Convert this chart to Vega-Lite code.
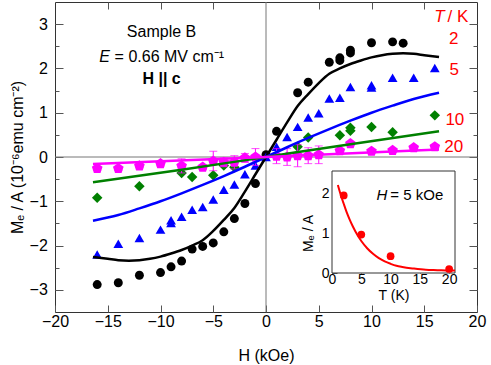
{
  "$schema": "https://vega.github.io/schema/vega-lite/v6.json",
  "width": 422,
  "height": 310,
  "autosize": {"type": "none"},
  "padding": {"left": 55, "top": 2, "right": 14, "bottom": 53},
  "config": {
    "font": "Liberation Sans",
    "view": {"stroke": "#333", "strokeWidth": 1},
    "axis": {"domain": false, "grid": false, "labelFont": "Liberation Sans", "titleFont": "Liberation Sans", "labelColor": "#000", "titleColor": "#000", "tickColor": "#555", "tickWidth": 1, "titleFontWeight": "normal", "labelFlush": false, "labelOverlap": false}
  },
  "datasets": {
    "one": [{}],
    "points": [
      {"H": -16, "M": -2.88, "T": 2}, {"H": -14, "M": -2.84, "T": 2}, {"H": -12, "M": -2.67, "T": 2}, {"H": -10, "M": -2.61, "T": 2},
      {"H": -9, "M": -2.48, "T": 2}, {"H": -8, "M": -2.35, "T": 2}, {"H": -7, "M": -2.08, "T": 2}, {"H": -6, "M": -2.02, "T": 2},
      {"H": -5, "M": -1.94, "T": 2}, {"H": -4, "M": -1.69, "T": 2}, {"H": -3, "M": -1.39, "T": 2}, {"H": -2, "M": -1.05, "T": 2},
      {"H": -1, "M": -0.6, "T": 2}, {"H": 0, "M": 0.05, "T": 2}, {"H": 1, "M": 0.58, "T": 2}, {"H": 3, "M": 1.45, "T": 2},
      {"H": 4, "M": 1.69, "T": 2}, {"H": 6, "M": 2.14, "T": 2}, {"H": 7, "M": 2.18, "T": 2}, {"H": 7, "M": 2.24, "T": 2},
      {"H": 8, "M": 2.35, "T": 2}, {"H": 8, "M": 2.41, "T": 2}, {"H": 10, "M": 2.58, "T": 2}, {"H": 12, "M": 2.6, "T": 2}, {"H": 13, "M": 2.57, "T": 2},
      {"H": -16, "M": -2.2, "T": 5}, {"H": -14, "M": -1.96, "T": 5}, {"H": -12, "M": -1.83, "T": 5}, {"H": -10, "M": -1.64, "T": 5},
      {"H": -9, "M": -1.43, "T": 5}, {"H": -9, "M": -1.49, "T": 5}, {"H": -8, "M": -1.35, "T": 5}, {"H": -7, "M": -1.19, "T": 5},
      {"H": -6, "M": -1.13, "T": 5}, {"H": -5, "M": -0.96, "T": 5}, {"H": -4, "M": -0.74, "T": 5}, {"H": -3, "M": -0.62, "T": 5},
      {"H": -2, "M": -0.39, "T": 5}, {"H": -1, "M": -0.19, "T": 5}, {"H": 0, "M": 0.0, "T": 5}, {"H": 1, "M": 0.23, "T": 5},
      {"H": 2, "M": 0.45, "T": 5}, {"H": 3, "M": 0.68, "T": 5}, {"H": 4, "M": 0.89, "T": 5}, {"H": 5, "M": 0.99, "T": 5},
      {"H": 6, "M": 1.32, "T": 5}, {"H": 7, "M": 1.34, "T": 5}, {"H": 8, "M": 1.58, "T": 5}, {"H": 10, "M": 1.62, "T": 5},
      {"H": 10, "M": 1.57, "T": 5}, {"H": 12, "M": 1.79, "T": 5}, {"H": 14, "M": 1.79, "T": 5}, {"H": 16, "M": 2.01, "T": 5},
      {"H": -16, "M": -0.92, "T": 10}, {"H": -12, "M": -0.66, "T": 10}, {"H": -8, "M": -0.36, "T": 10}, {"H": -7, "M": -0.45, "T": 10},
      {"H": -5, "M": -0.41, "T": 10}, {"H": -4, "M": -0.19, "T": 10}, {"H": -3, "M": -0.23, "T": 10}, {"H": 3, "M": 0.23, "T": 10},
      {"H": 4, "M": 0.44, "T": 10}, {"H": 7, "M": 0.49, "T": 10}, {"H": 8, "M": 0.66, "T": 10}, {"H": 8, "M": 0.59, "T": 10},
      {"H": 10, "M": 0.68, "T": 10}, {"H": 12, "M": 0.56, "T": 10}, {"H": 16, "M": 0.94, "T": 10},
      {"H": -16, "M": -0.26, "T": 20, "err": 0.04}, {"H": -14, "M": -0.26, "T": 20, "err": 0.04}, {"H": -12, "M": -0.2, "T": 20, "err": 0.04},
      {"H": -10, "M": -0.15, "T": 20, "err": 0.05}, {"H": -8, "M": -0.2, "T": 20, "err": 0.16}, {"H": -6, "M": -0.23, "T": 20, "err": 0.05},
      {"H": -5, "M": -0.09, "T": 20, "err": 0.22}, {"H": -4, "M": -0.12, "T": 20, "err": 0.1}, {"H": -3, "M": -0.12, "T": 20, "err": 0.15},
      {"H": -2, "M": -0.02, "T": 20, "err": 0.1}, {"H": -1, "M": 0.0, "T": 20, "err": 0.19}, {"H": 1, "M": 0.02, "T": 20, "err": 0.17},
      {"H": 2, "M": 0.0, "T": 20, "err": 0.19}, {"H": 3, "M": 0.03, "T": 20, "err": 0.25}, {"H": 4, "M": 0.03, "T": 20, "err": 0.18},
      {"H": 5, "M": 0.05, "T": 20, "err": 0.2}, {"H": 7, "M": 0.14, "T": 20, "err": 0.04}, {"H": 8, "M": 0.3, "T": 20, "err": 0.04},
      {"H": 10, "M": 0.13, "T": 20, "err": 0.04}, {"H": 12, "M": 0.15, "T": 20, "err": 0.04}, {"H": 14, "M": 0.21, "T": 20, "err": 0.04},
      {"H": 16, "M": 0.23, "T": 20, "err": 0.04}
    ],
    "fits": [
      {"H": -16.4, "M": -2.26, "T": 2}, {"H": -15, "M": -2.3, "T": 2}, {"H": -14, "M": -2.33, "T": 2}, {"H": -13, "M": -2.34, "T": 2},
      {"H": -12, "M": -2.33, "T": 2}, {"H": -11, "M": -2.3, "T": 2}, {"H": -10, "M": -2.25, "T": 2}, {"H": -9, "M": -2.18, "T": 2},
      {"H": -8, "M": -2.1, "T": 2}, {"H": -7, "M": -2.0, "T": 2}, {"H": -6, "M": -1.88, "T": 2}, {"H": -5, "M": -1.67, "T": 2},
      {"H": -4, "M": -1.42, "T": 2}, {"H": -3, "M": -1.15, "T": 2}, {"H": -2, "M": -0.78, "T": 2}, {"H": -1, "M": -0.39, "T": 2},
      {"H": 0, "M": 0, "T": 2}, {"H": 1, "M": 0.39, "T": 2}, {"H": 2, "M": 0.78, "T": 2}, {"H": 3, "M": 1.15, "T": 2},
      {"H": 4, "M": 1.42, "T": 2}, {"H": 5, "M": 1.67, "T": 2}, {"H": 6, "M": 1.88, "T": 2}, {"H": 7, "M": 2.0, "T": 2},
      {"H": 8, "M": 2.1, "T": 2}, {"H": 9, "M": 2.18, "T": 2}, {"H": 10, "M": 2.25, "T": 2}, {"H": 11, "M": 2.3, "T": 2},
      {"H": 12, "M": 2.33, "T": 2}, {"H": 13, "M": 2.34, "T": 2}, {"H": 14, "M": 2.33, "T": 2}, {"H": 15, "M": 2.3, "T": 2}, {"H": 16.4, "M": 2.26, "T": 2},
      {"H": -16.4, "M": -1.44, "T": 5}, {"H": -14, "M": -1.31, "T": 5}, {"H": -12, "M": -1.16, "T": 5}, {"H": -10, "M": -1.0, "T": 5},
      {"H": -8, "M": -0.82, "T": 5}, {"H": -6, "M": -0.63, "T": 5}, {"H": -4, "M": -0.43, "T": 5}, {"H": -2, "M": -0.22, "T": 5},
      {"H": 0, "M": 0, "T": 5}, {"H": 2, "M": 0.22, "T": 5}, {"H": 4, "M": 0.43, "T": 5}, {"H": 6, "M": 0.63, "T": 5},
      {"H": 8, "M": 0.82, "T": 5}, {"H": 10, "M": 1.0, "T": 5}, {"H": 12, "M": 1.16, "T": 5}, {"H": 14, "M": 1.31, "T": 5}, {"H": 16.4, "M": 1.45, "T": 5},
      {"H": -16.4, "M": -0.57, "T": 10}, {"H": -8, "M": -0.29, "T": 10}, {"H": 0, "M": 0, "T": 10}, {"H": 8, "M": 0.29, "T": 10}, {"H": 16.4, "M": 0.58, "T": 10},
      {"H": -16.4, "M": -0.16, "T": 20}, {"H": 0, "M": 0, "T": 20}, {"H": 16.4, "M": 0.17, "T": 20}
    ],
    "inset_points": [
      {"T": 2, "R": 1.94}, {"T": 5, "R": 0.96}, {"T": 10, "R": 0.42}, {"T": 20, "R": 0.1}
    ],
    "inset_fit": [
      {"T": 1, "R": 2.2}, {"T": 1.5, "R": 1.95}, {"T": 2, "R": 1.73}, {"T": 2.5, "R": 1.52}, {"T": 3, "R": 1.34},
      {"T": 3.5, "R": 1.18}, {"T": 4, "R": 1.04}, {"T": 5, "R": 0.8}, {"T": 6, "R": 0.62}, {"T": 7, "R": 0.48},
      {"T": 8, "R": 0.37}, {"T": 9, "R": 0.29}, {"T": 10, "R": 0.23}, {"T": 11, "R": 0.18}, {"T": 12, "R": 0.15},
      {"T": 14, "R": 0.11}, {"T": 16, "R": 0.08}, {"T": 18, "R": 0.07}, {"T": 20, "R": 0.06}, {"T": 21, "R": 0.06}
    ]
  },
  "layer": [
    {
      "data": {"name": "one"},
      "mark": {"type": "rule", "color": "#777", "strokeWidth": 1},
      "encoding": {
        "x": {"datum": 0, "type": "quantitative", "scale": {"domain": [-20, 20], "nice": false, "zero": false},
              "axis": {"orient": "top", "labels": false, "title": null, "tickSize": -7, "values": [-15, -10, -5, 5, 10, 15]}},
        "y": {"datum": -3.5, "type": "quantitative", "scale": {"domain": [-3.5, 3.5], "nice": false, "zero": false},
              "axis": {"orient": "left", "labels": false, "title": null, "tickSize": -4, "values": [-3, -2.5, -2, -1.5, -1, -0.5, 0, 0.5, 1, 1.5, 2, 2.5, 3]}},
        "y2": {"datum": 3.5}
      }
    },
    {
      "data": {"name": "one"},
      "mark": {"type": "rule", "color": "#777", "strokeWidth": 1},
      "encoding": {
        "x": {"datum": -20, "type": "quantitative", "scale": {"domain": [-20, 20], "nice": false, "zero": false}, "axis": null},
        "x2": {"datum": 20},
        "y": {"datum": 0, "type": "quantitative", "scale": {"domain": [-3.5, 3.5], "nice": false, "zero": false},
              "axis": {"orient": "right", "labels": false, "title": null, "tickSize": -8, "values": [-3, -2, -1, 0, 1, 2, 3]}}
      }
    },
    {
      "data": {"name": "one"},
      "mark": {"type": "rule", "opacity": 0},
      "encoding": {
        "x": {"datum": -20, "type": "quantitative", "scale": {"domain": [-20, 20], "nice": false, "zero": false}, "axis": null},
        "x2": {"datum": 20},
        "y": {"datum": 0, "type": "quantitative", "scale": {"domain": [-3.5, 3.5], "nice": false, "zero": false},
              "axis": {"orient": "right", "labels": false, "title": null, "tickSize": -4, "values": [-3, -2.5, -2, -1.5, -1, -0.5, 0, 0.5, 1, 1.5, 2, 2.5, 3]}}
      }
    },
    {
      "layer": [
        {
          "data": {"name": "points"},
          "mark": {"type": "point", "filled": true, "opacity": 1},
          "encoding": {
            "x": {"field": "H", "type": "quantitative", "title": "H (kOe)", "scale": {"domain": [-20, 20], "nice": false, "zero": false},
                  "axis": {"orient": "bottom", "values": [-20, -15, -10, -5, 0, 5, 10, 15, 20], "tickSize": -7, "labelPadding": 8, "labelFontSize": 16, "titleFontSize": 16, "titlePadding": 18}},
            "y": {"field": "M", "type": "quantitative", "title": "Mₑ / A (10⁻⁶emu cm⁻²)", "scale": {"domain": [-3.5, 3.5], "nice": false, "zero": false},
                  "axis": {"orient": "left", "values": [-3, -2, -1, 0, 1, 2, 3], "tickSize": -8, "labelPadding": 15.7, "labelFontSize": 16, "titleFontSize": 16, "titlePadding": 4}},
            "color": {"field": "T", "type": "nominal", "scale": {"domain": [2, 5, 10, 20], "range": ["#000000", "#0000ff", "#008000", "#ff00ff"]}, "legend": null},
            "shape": {"field": "T", "type": "nominal", "scale": {"domain": [2, 5, 10, 20], "range": ["circle", "triangle-up", "diamond", "M0,-1L0.951,-0.309L0.588,0.809L-0.588,0.809L-0.951,-0.309Z"]}, "legend": null},
            "size": {"field": "T", "type": "ordinal", "scale": {"domain": [2, 5, 10, 20], "range": [80, 125, 100, 95]}, "legend": null}
          }
        },
        {
          "data": {"name": "points"},
          "transform": [{"filter": "datum.T == 20"}],
          "mark": {"type": "errorbar", "color": "#ff00ff", "thickness": 1, "ticks": {"size": 8, "color": "#ff00ff"}},
          "encoding": {
            "x": {"field": "H", "type": "quantitative", "title": "H (kOe)"},
            "y": {"field": "M", "type": "quantitative", "title": "Mₑ / A (10⁻⁶emu cm⁻²)"},
            "yError": {"field": "err"}
          }
        },
        {
          "data": {"name": "fits"},
          "mark": {"type": "line", "interpolate": "monotone"},
          "encoding": {
            "x": {"field": "H", "type": "quantitative", "title": "H (kOe)"},
            "y": {"field": "M", "type": "quantitative", "title": "Mₑ / A (10⁻⁶emu cm⁻²)"},
            "color": {"field": "T", "type": "nominal", "scale": {"domain": [2, 5, 10, 20], "range": ["#000000", "#0000ff", "#008000", "#ff00ff"]}, "legend": null},
            "strokeWidth": {"field": "T", "type": "ordinal", "scale": {"domain": [2, 5, 10, 20], "range": [2.5, 2.5, 2.5, 3.5]}, "legend": null}
          }
        },
        {"data": {"name": "one"}, "mark": {"type": "text", "text": "Sample B", "fontSize": 16, "align": "center", "baseline": "middle"},
         "encoding": {"x": {"datum": -9.9, "type": "quantitative"}, "y": {"datum": 2.82, "type": "quantitative"}}},
        {"data": {"name": "one"}, "mark": {"type": "text", "text": "E", "fontSize": 16, "fontStyle": "italic", "align": "left", "baseline": "middle"},
         "encoding": {"x": {"datum": -15.8, "type": "quantitative"}, "y": {"datum": 2.26, "type": "quantitative"}}},
        {"data": {"name": "one"}, "mark": {"type": "text", "text": "= 0.66 MV cm⁻¹", "fontSize": 16, "align": "left", "baseline": "middle"},
         "encoding": {"x": {"datum": -14.35, "type": "quantitative"}, "y": {"datum": 2.26, "type": "quantitative"}}},
        {"data": {"name": "one"}, "mark": {"type": "text", "text": "H || c", "fontSize": 16, "fontWeight": "bold", "align": "center", "baseline": "middle"},
         "encoding": {"x": {"datum": -9.9, "type": "quantitative"}, "y": {"datum": 1.77, "type": "quantitative"}}},
        {"data": {"name": "one"}, "mark": {"type": "text", "text": "T", "fontSize": 17, "fontStyle": "italic", "color": "#ff0000", "align": "left", "baseline": "middle"},
         "encoding": {"x": {"datum": 15.95, "type": "quantitative"}, "y": {"datum": 3.16, "type": "quantitative"}}},
        {"data": {"name": "one"}, "mark": {"type": "text", "text": "/ K", "fontSize": 17, "color": "#ff0000", "align": "left", "baseline": "middle"},
         "encoding": {"x": {"datum": 17.2, "type": "quantitative"}, "y": {"datum": 3.16, "type": "quantitative"}}},
        {"data": {"name": "one"}, "mark": {"type": "text", "text": "2", "fontSize": 17, "color": "#ff0000", "align": "center", "baseline": "middle"},
         "encoding": {"x": {"datum": 17.8, "type": "quantitative"}, "y": {"datum": 2.67, "type": "quantitative"}}},
        {"data": {"name": "one"}, "mark": {"type": "text", "text": "5", "fontSize": 17, "color": "#ff0000", "align": "center", "baseline": "middle"},
         "encoding": {"x": {"datum": 17.85, "type": "quantitative"}, "y": {"datum": 1.97, "type": "quantitative"}}},
        {"data": {"name": "one"}, "mark": {"type": "text", "text": "10", "fontSize": 17, "color": "#ff0000", "align": "center", "baseline": "middle"},
         "encoding": {"x": {"datum": 17.9, "type": "quantitative"}, "y": {"datum": 0.83, "type": "quantitative"}}},
        {"data": {"name": "one"}, "mark": {"type": "text", "text": "20", "fontSize": 17, "color": "#ff0000", "align": "center", "baseline": "middle"},
         "encoding": {"x": {"datum": 17.8, "type": "quantitative"}, "y": {"datum": 0.23, "type": "quantitative"}}}
      ]
    },
    {
      "layer": [
        {
          "data": {"name": "one"},
          "mark": {"type": "rect", "fill": "#ffffff", "stroke": "#333", "strokeWidth": 1},
          "encoding": {
            "x": {"datum": 0, "type": "quantitative", "title": "T (K)", "scale": {"domain": [0, 21], "range": [277, 400], "nice": false, "zero": false},
                  "axis": {"orient": "bottom", "offset": -39, "values": [0, 5, 10, 15, 20], "tickSize": -5, "labelPadding": 4, "labelFontSize": 14, "titleFontSize": 14, "titlePadding": 2}},
            "x2": {"datum": 21},
            "y": {"datum": 0, "type": "quantitative", "title": "Mₑ / A", "scale": {"domain": [0, 2.55], "range": [271, 169], "nice": false, "zero": false},
                  "axis": {"orient": "left", "offset": -277, "values": [0, 1, 2], "format": "d", "tickSize": -5, "labelPadding": 8, "labelFontSize": 14, "titleFontSize": 14, "titlePadding": 6, "titleY": 231}},
            "y2": {"datum": 2.55}
          }
        },
        {
          "data": {"name": "inset_fit"},
          "mark": {"type": "line", "color": "#ff0000", "strokeWidth": 2, "interpolate": "monotone"},
          "encoding": {
            "x": {"field": "T", "type": "quantitative", "title": "T (K)"},
            "y": {"field": "R", "type": "quantitative", "title": "Mₑ / A"}
          }
        },
        {
          "data": {"name": "inset_points"},
          "mark": {"type": "point", "shape": "circle", "filled": true, "opacity": 1, "color": "#ff0000", "size": 60},
          "encoding": {
            "x": {"field": "T", "type": "quantitative", "title": "T (K)"},
            "y": {"field": "R", "type": "quantitative", "title": "Mₑ / A"}
          }
        },
        {"data": {"name": "one"}, "mark": {"type": "text", "text": "H", "fontSize": 15, "fontStyle": "italic", "align": "left", "baseline": "middle"},
         "encoding": {"x": {"datum": 7.6, "type": "quantitative"}, "y": {"datum": 1.94, "type": "quantitative"}}},
        {"data": {"name": "one"}, "mark": {"type": "text", "text": "= 5 kOe", "fontSize": 15, "align": "left", "baseline": "middle"},
         "encoding": {"x": {"datum": 9.95, "type": "quantitative"}, "y": {"datum": 1.94, "type": "quantitative"}}}
      ]
    }
  ],
  "resolve": {"scale": {"x": "independent", "y": "independent"}, "axis": {"x": "independent", "y": "independent"}}
}
